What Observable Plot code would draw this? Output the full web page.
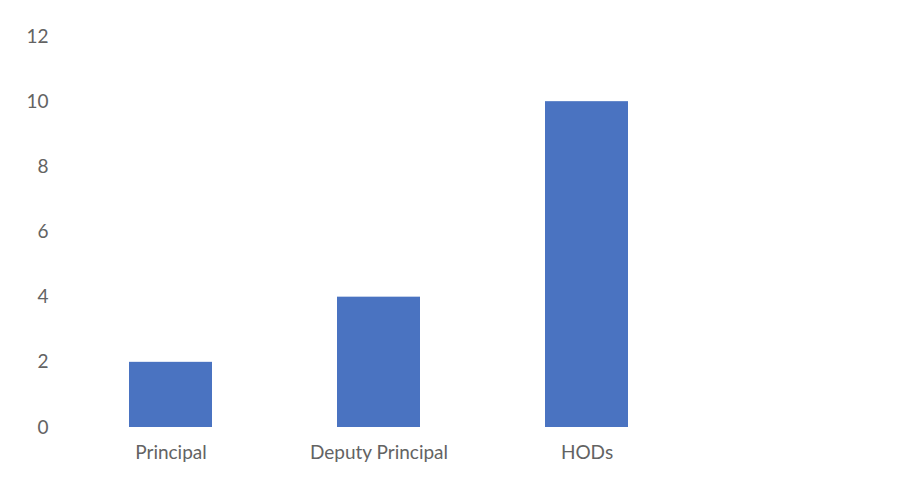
<!DOCTYPE html>
<html>
<head>
<meta charset="utf-8">
<script src="https://cdn.jsdelivr.net/npm/d3@7"></script>
<script src="https://cdn.jsdelivr.net/npm/@observablehq/plot@0.6"></script>
<style>
  html, body { margin: 0; padding: 0; background: #fff; }
  #chart svg { display: block; }
</style>
</head>
<body>
<div id="chart"></div>
<script>
// Staff counts by role
const roles = ["Principal", "Deputy Principal", "HODs"];
const counts = [2, 4, 10];
const yTicks = [0, 2, 4, 6, 8, 10, 12];

const data = roles.map((role, i) => ({role, count: counts[i]}));

const chart = Plot.plot({
  width: 918,
  height: 477,
  marginLeft: 66,
  marginRight: 226,
  marginTop: 36,
  marginBottom: 50,
  style: {fontFamily: "Lato, 'Open Sans', sans-serif", fontSize: "19px", color: "#636363", background: "#fff"},
  x: {domain: roles, paddingInner: 0.6, paddingOuter: 0.3, label: null},
  y: {domain: [0, 12], label: null},
  marks: [
    Plot.barY(data, {x: "role", y: "count", fill: "#4a73c1"}),
    Plot.axisY({ticks: yTicks, tickSize: 0, tickPadding: 18, fill: "#636363", label: null}),
    Plot.axisX({tickSize: 0, tickPadding: 18, fill: "#636363", label: null})
  ]
});

document.getElementById("chart").append(chart);
</script>
</body>
</html>
